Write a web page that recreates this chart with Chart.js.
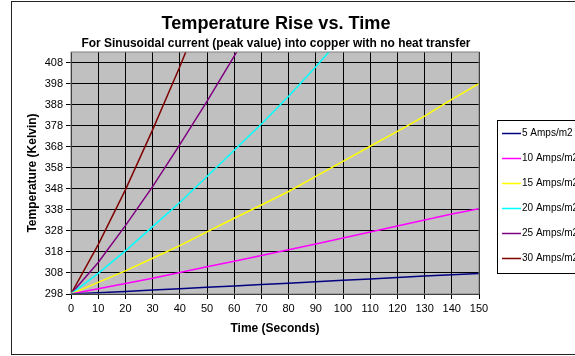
<!DOCTYPE html>
<html>
<head>
<meta charset="utf-8">
<script src="https://cdn.jsdelivr.net/npm/chart.js@4/dist/chart.umd.min.js"></script>
<style>
  html, body { margin: 0; padding: 0; background: #fff; overflow: hidden; }
  #wrap { width: 600px; height: 356px; }
</style>
</head>
<body>
<div id="wrap"><canvas id="c" width="600" height="356"></canvas></div>
<script>
/* Temperature Rise vs. Time */

const FONT = '"Liberation Sans", Arial, sans-serif';

const TITLE = 'Temperature Rise vs. Time';
const SUBTITLE = 'For Sinusoidal current (peak value) into copper with no heat transfer';

// time (s)
const times = [0, 10, 20, 30, 40, 50, 60, 70, 80, 90, 100, 110, 120, 130, 140, 150];

// temperature (K), values past the top of the plot are cut off by the chart area
const amps5  = [298, 298.6, 299.2, 299.9, 300.5, 301.2, 301.8, 302.5, 303.1, 303.8, 304.5, 305.1, 305.8, 306.5, 307.1, 307.8];
const amps10 = [298, 300.5, 303, 305.5, 308.2, 310.9, 313.6, 316.3, 319, 321.8, 324.6, 327.5, 330.3, 333.2, 336, 338.5];
const amps15 = [298, 303.5, 309, 315, 321, 327.5, 334, 340.3, 346.7, 353.9, 361, 368.2, 375.3, 382.5, 390.5, 398];
const amps20 = [298, 307.8, 318.5, 330, 341.5, 353.8, 366.3, 378.8, 392, 406, 420.5];
const amps25 = [298, 313, 330.5, 349, 369, 389.5, 411, 434];
const amps30 = [298, 321.5, 347.5, 376, 406, 438];

const yTicks = [298, 308, 318, 328, 338, 348, 358, 368, 378, 388, 398, 408];
const xTicks = [0, 10, 20, 30, 40, 50, 60, 70, 80, 90, 100, 110, 120, 130, 140, 150];

const series = [
  { label: '5 Amps/m2',  data: amps5,  color: '#000080' },
  { label: '10 Amps/m2', data: amps10, color: '#ff00ff' },
  { label: '15 Amps/m2', data: amps15, color: '#ffff00' },
  { label: '20 Amps/m2', data: amps20, color: '#00ffff' },
  { label: '25 Amps/m2', data: amps25, color: '#800080' },
  { label: '30 Amps/m2', data: amps30, color: '#800000' },
];

function points(vals) {
  return vals.map((v, i) => ({ x: times[i], y: v }));
}

// squeeze text to the width it has in the picture
function fitText(ctx, text, cx, cy, w) {
  const m = ctx.measureText(text).width;
  ctx.save();
  ctx.translate(cx, cy);
  ctx.scale(w / m, 1);
  ctx.fillText(text, 0, 0);
  ctx.restore();
}

const frame = {
  id: 'frame',
  beforeDraw(chart) {
    const { ctx, chartArea: a } = chart;
    ctx.save();
    ctx.fillStyle = '#fff';
    ctx.fillRect(0, 0, chart.width, chart.height);
    ctx.strokeStyle = '#222';
    ctx.lineWidth = 1;
    ctx.strokeRect(11.5, 1.5, 700, 353);
    ctx.fillStyle = '#c0c0c0';
    ctx.fillRect(a.left, a.top, a.right - a.left, a.bottom - a.top);
    ctx.restore();
  },
  afterDraw(chart) {
    const { ctx, chartArea: a } = chart;
    ctx.save();
    ctx.strokeStyle = '#808080';
    ctx.lineWidth = 1;
    ctx.strokeRect(a.left, a.top, a.right - a.left, a.bottom - a.top);

    ctx.fillStyle = '#000';
    ctx.textAlign = 'center';
    ctx.textBaseline = 'middle';
    ctx.font = 'bold 18px ' + FONT;
    fitText(ctx, TITLE, 276, 24, 229);
    ctx.font = 'bold 12px ' + FONT;
    fitText(ctx, SUBTITLE, 276, 44, 389);

    // legend
    ctx.strokeStyle = '#000';
    ctx.strokeRect(497.5, 120.5, 200, 153);
    ctx.font = '10px ' + FONT;
    ctx.textAlign = 'left';
    chart.data.datasets.forEach((ds, i) => {
      const y = Math.round(132.7 + i * 25.1) + 0.5;
      ctx.strokeStyle = ds.borderColor;
      ctx.lineWidth = 1.5;
      ctx.beginPath();
      ctx.moveTo(502, y);
      ctx.lineTo(521, y);
      ctx.stroke();
      ctx.fillStyle = '#000';
      ctx.fillText(ds.label, 522, y);
    });
    ctx.restore();
  }
};

new Chart(document.getElementById('c'), {
  type: 'line',
  data: {
    datasets: series.map(s => ({
      label: s.label,
      data: points(s.data),
      borderColor: s.color,
      backgroundColor: s.color,
      borderWidth: 1.5,
      pointRadius: 0,
      tension: 0,
    })),
  },
  options: {
    responsive: false,
    animation: false,
    layout: { padding: { top: 52, left: 11, right: 121, bottom: 2 } },
    plugins: {
      legend: { display: false },
      tooltip: { enabled: false },
    },
    scales: {
      x: {
        type: 'linear',
        min: 0,
        max: 150,
        afterBuildTicks: s => { s.ticks = xTicks.map(v => ({ value: v })); },
        afterFit: s => { s.height = 60; },
        grid: { color: '#000', lineWidth: 1, tickLength: 5, tickColor: '#000' },
        border: { display: false },
        ticks: { color: '#000', font: { family: FONT, size: 11 }, padding: 3, maxRotation: 0 },
        title: {
          display: true,
          text: 'Time (Seconds)',
          color: '#000',
          font: { family: FONT, size: 12, weight: 'bold' },
          padding: { top: 0, bottom: 18 },
        },
      },
      y: {
        type: 'linear',
        min: 298,
        max: 413,
        afterBuildTicks: s => { s.ticks = yTicks.map(v => ({ value: v })); },
        afterFit: s => { s.width = 60; },
        grid: { color: '#000', lineWidth: 1, tickLength: 5, tickColor: '#000' },
        border: { display: false },
        ticks: { color: '#000', font: { family: FONT, size: 11 }, padding: 3 },
        title: {
          display: true,
          text: 'Temperature (Kelvin)',
          color: '#000',
          font: { family: FONT, size: 12, weight: 'bold' },
          padding: { top: 14, bottom: 0 },
        },
      },
    },
  },
  plugins: [frame],
});
</script>
</body>
</html>
